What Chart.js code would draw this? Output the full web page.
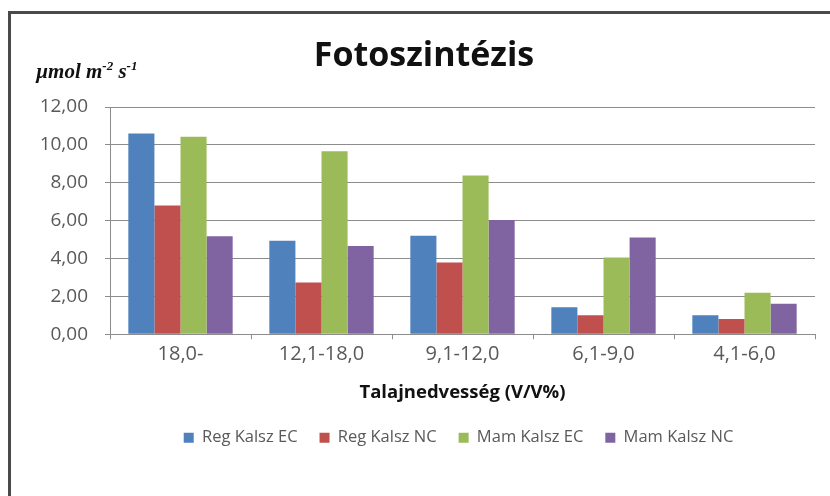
<!DOCTYPE html>
<html lang="hu">
<head>
    <meta charset="UTF-8">
    <title>Fotoszintézis</title>
    <script src="https://cdn.jsdelivr.net/npm/chart.js"></script>
    <style>
        html, body { margin: 0; padding: 0; background: #fff; }
        #wrap { position: relative; width: 830px; height: 496px; }
        #frame {
            position: absolute; left: 8px; top: 11px; right: 0; bottom: 0;
            border-top: 3px solid #4a4a4a; border-left: 3px solid #4a4a4a;
            pointer-events: none;
        }
    </style>
</head>
<body>
<div id="wrap">
    <canvas id="chart" width="830" height="496"></canvas>
    <div id="frame"></div>
</div>
<script>
    // data
    const categories = ['18,0-', '12,1-18,0', '9,1-12,0', '6,1-9,0', '4,1-6,0'];
    const regKalszEC = [10.60, 4.94, 5.20, 1.43, 1.01];
    const regKalszNC = [6.80, 2.73, 3.79, 1.01, 0.81];
    const mamKalszEC = [10.43, 9.67, 8.39, 4.05, 2.19];
    const mamKalszNC = [5.17, 4.66, 6.04, 5.11, 1.61];
    const seriesNames = ['Reg Kalsz EC', 'Reg Kalsz NC', 'Mam Kalsz EC', 'Mam Kalsz NC'];
    const seriesColors = ['#4f81bd', '#c0504d', '#9bbb59', '#8064a2'];

    const textColor = '#595959';
    const gridColor = '#8c8c8c';
    const font = 'Open Sans';

    // title and unit label, drawn on top
    const extraText = {
        id: 'extraText',
        afterLayout(chart) {
            // Excel centres the legend under the plot, not the whole canvas
            const shift = 46;
            chart.legend.left += shift;
            chart.legend.right += shift;
        },
        afterDraw(chart) {
            const ctx = chart.ctx;
            ctx.save();
            ctx.fillStyle = '#111';
            ctx.textAlign = 'center';
            ctx.textBaseline = 'middle';
            ctx.font = 'bold 34px "' + font + '"';
            ctx.fillText('Fotoszintézis', 424, 56);

            // µmol m-2 s-1
            ctx.textAlign = 'left';
            ctx.textBaseline = 'alphabetic';
            let x = 36, y = 78;
            const big = 'bold italic 21px "Liberation Serif"';
            const small = 'bold italic 13px "Liberation Serif"';
            const parts = [['µmol m', big, 0], ['-2', small, -8], [' s', big, 0], ['-1', small, -8]];
            parts.forEach(p => {
                ctx.font = p[1];
                ctx.fillText(p[0], x, y + p[2]);
                x += ctx.measureText(p[0]).width;
            });
            ctx.restore();
        }
    };

    const datasets = [regKalszEC, regKalszNC, mamKalszEC, mamKalszNC].map((d, i) => ({
        label: seriesNames[i],
        data: d,
        backgroundColor: seriesColors[i],
        borderWidth: 0,
        categoryPercentage: 0.74,
        barPercentage: 1.0
    }));

    new Chart(document.getElementById('chart'), {
        type: 'bar',
        data: { labels: categories, datasets: datasets },
        options: {
            responsive: false,
            animation: false,
            layout: { padding: { left: 10, right: 15, top: 107, bottom: 40 } },
            plugins: {
                title: { display: false },
                tooltip: { enabled: false },
                legend: {
                    position: 'bottom',
                    labels: {
                        boxWidth: 10, boxHeight: 10,
                        padding: 22,
                        color: textColor,
                        font: { family: font, size: 16.5 }
                    }
                }
            },
            scales: {
                x: {
                    grid: {
                        drawOnChartArea: false,
                        drawTicks: true,
                        tickLength: 5,
                        color: gridColor
                    },
                    border: { color: gridColor },
                    ticks: { color: textColor, padding: 3, font: { family: font, size: 20 } },
                    title: {
                        display: true,
                        text: 'Talajnedvesség (V/V%)',
                        color: '#111',
                        font: { family: font, size: 18.5, weight: 'bold' },
                        padding: { top: 12, bottom: 4 }
                    }
                },
                y: {
                    min: 0, max: 12,
                    afterFit(s) { s.width = 100; },
                    grid: { color: gridColor, tickLength: 5 },
                    border: { color: gridColor },
                    ticks: {
                        stepSize: 2,
                        color: textColor,
                        padding: 17,
                        font: { family: font, size: 19 },
                        callback: v => v.toFixed(2).replace('.', ',')
                    }
                }
            }
        },
        plugins: [extraText]
    });
</script>
</body>
</html>
